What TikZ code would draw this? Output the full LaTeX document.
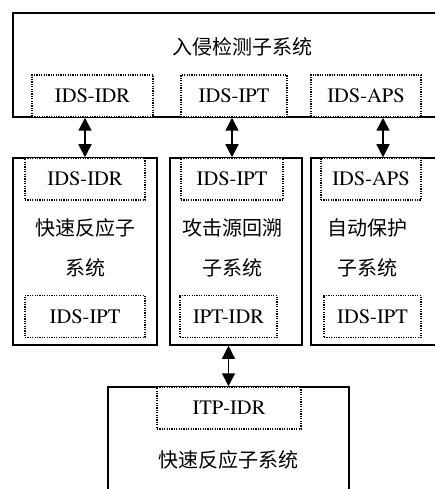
\documentclass[tikz,border=0pt]{standalone}
\usepackage[T1]{fontenc}
\usepackage{fontspec}
\newcommand\tnr{\fontencoding{T1}\fontfamily{ptm}\selectfont}
\newfontfamily\cjk{Noto Sans CJK SC}
\usetikzlibrary{arrows.meta}

\begin{document}
\begin{tikzpicture}[x=1pt, y=-1pt,
    sys/.style={draw, line width=1.6pt, fill=white, inner sep=0pt},
    port/.style={draw, line width=1.5pt, dash pattern=on 1.2pt off 1.2pt, fill=white, inner sep=0pt, minimum height=42pt, font=\tnr\fontsize{20.5}{24}\selectfont},
    txt/.style={font=\cjk\fontsize{20}{24}\selectfont, inner sep=0pt},
    link/.style={line width=1.5pt, {Triangle[width=13pt,length=13pt]}-{Triangle[width=13pt,length=13pt]}}]
            \clip (0,0) rectangle (435,489);
            \fill[white] (0,0) rectangle (435,489);

            % subsystem boxes
            \node[sys, minimum width=457pt, minimum height=104pt] (IDS) at (241.5,65) {};
            \node[sys, minimum width=144pt, minimum height=187pt] (R) at (85,251.5) {};
            \node[sys, minimum width=132pt, minimum height=187pt] (T) at (236,251.5) {};
            \node[sys, minimum width=144pt, minimum height=187pt] (P) at (383,251.5) {};
            \node[sys, minimum width=241pt, minimum height=133pt] (B) at (228.5,453.5) {};

            % interface boxes
            \node[port, minimum width=121pt] (A1) at (92.5,96) {IDS-IDR};
            \node[port, minimum width=106pt] (A2) at (234,96) {IDS-IPT};
            \node[port, minimum width=110pt] (A3) at (366,96) {IDS-APS};
            \node[port, minimum width=120pt] (R1) at (85,179) {IDS-IDR};
            \node[port, minimum width=102pt] (T1) at (232,179) {IDS-IPT};
            \node[port, minimum width=100pt] (P1) at (371,179) {IDS-APS};
            \node[port, minimum width=120pt] (R2) at (85,316.5) {IDS-IPT};
            \node[port, minimum width=97pt] (T2) at (228.5,316.5) {IPT-IDR};
            \node[port, minimum width=97pt] (P2) at (372.5,316.5) {IDS-IPT};
            \node[port, minimum width=144pt] (B1) at (229,408) {ITP-IDR};

            % labels
            \node[txt] (ids) at (242,47) {入侵检测子系统};
            \node[txt] (r1) at (85,228) {快速反应子};
            \node[txt] (r2) at (85,268) {系统};
            \node[txt] (t1) at (232,228) {攻击源回溯};
            \node[txt] (t2) at (232,268) {子系统};
            \node[txt] (p1) at (367,228) {自动保护};
            \node[txt] (p2) at (367,268) {子系统};
            \node[txt] (b) at (228,460) {快速反应子系统};

            % links
            \draw[link] (A1.south -| R1.north) -- (R1.north);
            \draw[link] (A2.south -| T1.north) -- (T1.north);
            \draw[link] ([xshift=17pt]A3.south) -- ([xshift=17pt]A3.south |- P1.north);
            \draw[link] (T2.south |- T.south) -- (B1.north -| T2.south);
        \end{tikzpicture}
\end{document}
